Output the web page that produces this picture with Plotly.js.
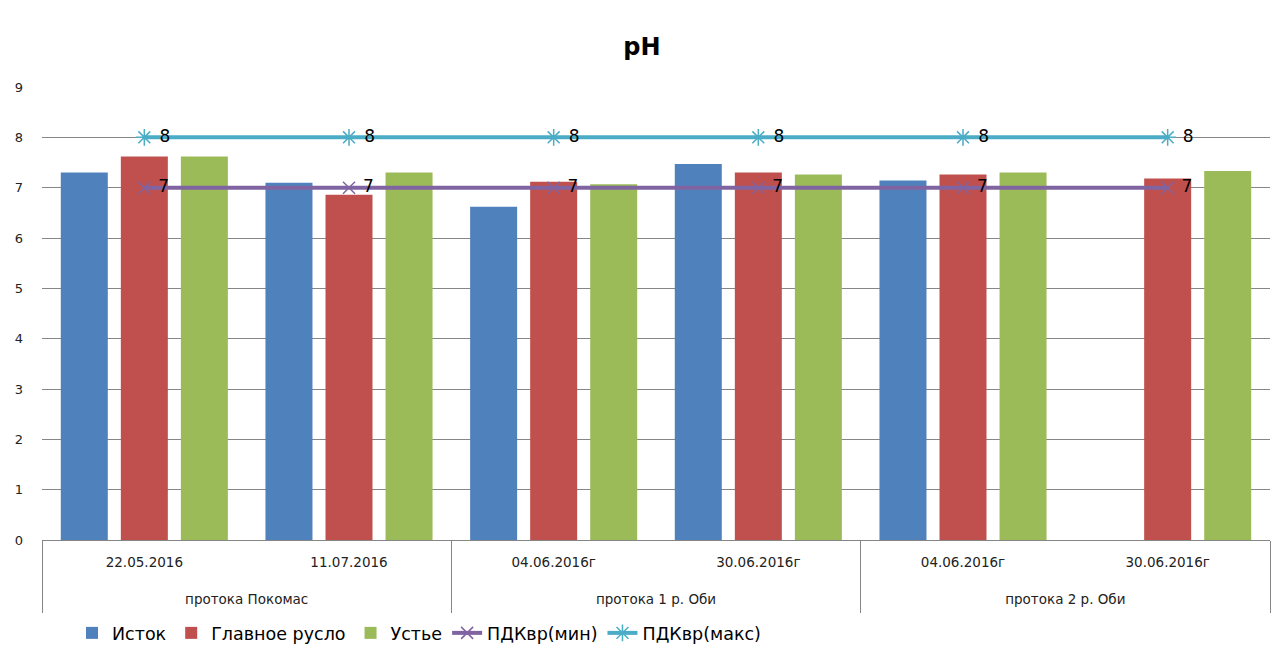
<!DOCTYPE html>
<html>
<head>
<meta charset="utf-8">
<script src="https://cdn.plot.ly/plotly-3.0.1.min.js"></script>
<style>html,body{margin:0;padding:0;background:#fff;}#chart{width:1284px;height:656px;}</style>
</head>
<body>
<div id="chart"></div>
<script>
const groups = ["протока Покомас","протока Покомас","протока 1 р. Оби","протока 1 р. Оби","протока 2 р. Оби","протока 2 р. Оби"];
const dates = ["22.05.2016","11.07.2016","04.06.2016г","30.06.2016г","04.06.2016г","30.06.2016г"];
const istok = [7.3, 7.1, 6.62, 7.47, 7.14, null];
const glavnoe = [7.62, 6.86, 7.12, 7.3, 7.26, 7.18];
const ustye = [7.62, 7.3, 7.07, 7.26, 7.3, 7.33];
const pdkMin = [7, 7, 7, 7, 7, 7];
const pdkMax = [8, 8, 8, 8, 8, 8];
const yTicks = [0,1,2,3,4,5,6,7,8,9];

const x = [groups, dates];
const font = "'DejaVu Sans', sans-serif";
const pad = '\u00a0';

// label-axis positions derived from the category arrays
const groupNames = [];
const groupBounds = [-0.5];
groups.forEach((g, i) => {
  if (i === 0 || g !== groups[i - 1]) {
    if (i > 0) groupBounds.push(i - 0.5);
    groupNames.push(g);
  }
});
groupBounds.push(groups.length - 0.5);
const groupCenters = groupNames.map((_, k) => (groupBounds[k] + groupBounds[k + 1]) / 2);
const catIdx = dates.map((_, i) => i);
const xr = [-0.5, dates.length - 0.5];

function holder(axis, xs) {
  return {type:'scatter', mode:'markers', x:xs, y:xs.map(() => 0), xaxis:axis, yaxis:'y',
          marker:{opacity:0, size:1}, showlegend:false, hoverinfo:'skip'};
}

const traces = [
  {type:'bar', name:'Исток', x:x, y:istok, marker:{color:'#4f81bd'}},
  {type:'bar', name:'Главное русло', x:x, y:glavnoe, marker:{color:'#c0504d'}},
  {type:'bar', name:'Устье', x:x, y:ustye, marker:{color:'#9bbb59'}},
  {type:'scatter', mode:'lines+markers+text', name:'ПДКвр(мин)', x:x, y:pdkMin,
   line:{color:'#8064a2', width:4}, marker:{symbol:'x-thin-open', size:12, color:'#8064a2', line:{color:'#8064a2', width:1.5}},
   text:pdkMin.map(v => pad + v), textposition:'middle right', textfont:{size:17, color:'#000', family:font}},
  {type:'scatter', mode:'lines+markers+text', name:'ПДКвр(макс)', x:x, y:pdkMax,
   line:{color:'#4bacc6', width:4}, marker:{symbol:'asterisk-open', size:14, color:'#4bacc6', line:{color:'#4bacc6', width:1.5}},
   text:pdkMax.map(v => pad + v), textposition:'middle right', textfont:{size:17, color:'#000', family:font}},
  holder('x2', catIdx),
  holder('x3', groupCenters),
  holder('x4', groupBounds)
];

const layout = {
  width:1284, height:656,
  margin:{l:42, r:14, t:87, b:116},
  paper_bgcolor:'#fff', plot_bgcolor:'#fff',
  font:{family:font, size:14, color:'#222'},
  title:{text:'<b>pH</b>', x:0.5, xref:'container', y:1-47/656, yref:'container', yanchor:'middle', font:{size:24, color:'#000', family:font}},
  barmode:'group', bargap:0.12, bargroupgap:0.217,
  showlegend:true,
  legend:{orientation:'h', xref:'container', yref:'container', x:72/1284, y:1-633/656, xanchor:'left', yanchor:'middle',
          font:{size:17.5, color:'#000', family:font}, traceorder:'normal'},
  xaxis:{type:'multicategory', range:xr, showline:true, linecolor:'#868686', linewidth:1, showgrid:false,
         showdividers:false, showticklabels:false, ticks:''},
  xaxis2:{overlaying:'x', anchor:'y', side:'bottom', type:'linear', range:xr, tickvals:catIdx, ticktext:dates,
          showgrid:false, zeroline:false, showline:false, ticks:'', tickfont:{size:13.5, color:'#222'}, ticklabelstandoff:12},
  xaxis3:{overlaying:'x', anchor:'y', side:'bottom', type:'linear', range:xr, tickvals:groupCenters, ticktext:groupNames,
          showgrid:false, zeroline:false, showline:false, ticks:'', tickfont:{size:13.5, color:'#222'}, ticklabelstandoff:49},
  xaxis4:{overlaying:'x', anchor:'y', side:'bottom', type:'linear', range:xr, tickvals:groupBounds, showticklabels:false,
          showgrid:false, zeroline:false, showline:false, ticks:'outside', ticklen:72, tickwidth:1, tickcolor:'#868686'},
  yaxis:{range:[0,9], tickvals:yTicks, ticktext:yTicks.map(String), showgrid:true, gridcolor:'#868686', gridwidth:1,
         zeroline:false, showline:false, ticks:'', tickfont:{size:13, color:'#222'}, ticklabelstandoff:18},
  hovermode:false
};

Plotly.newPlot('chart', traces, layout, {displayModeBar:false, staticPlot:true});
</script>
</body>
</html>
